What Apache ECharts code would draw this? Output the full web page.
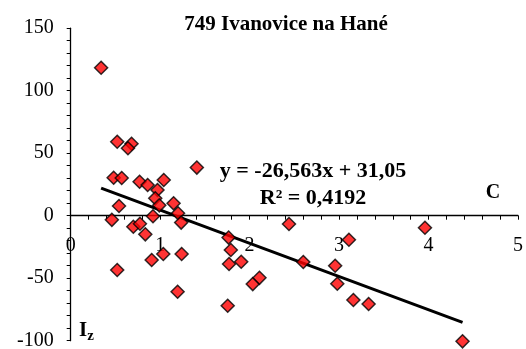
<!DOCTYPE html>
<html>
<head>
<meta charset="utf-8">
<script src="https://cdn.jsdelivr.net/npm/echarts@6/dist/echarts.min.js"></script>
<style>html,body{margin:0;padding:0;background:#fff}#c{width:526px;height:349px}</style>
</head>
<body>
<div id="c"></div>
<script>
var title = "749 Ivanovice na Hané";
var xVals = [0.34,0.52,0.68,0.64,1.41,0.48,0.57,0.77,0.86,1.04,0.97,0.945,0.99,1.15,1.20,0.54,0.46,0.92,1.235,0.70,0.774,0.834,1.035,1.24,0.905,0.52,1.195,1.765,1.79,1.77,1.906,1.755,2.035,2.11,2.44,2.60,3.96,3.11,2.956,2.98,3.16,3.33,4.38];
var yVals = [118.4,59.2,57.6,54.0,38.5,30.4,30.2,27.2,24.6,28.6,20.6,13.9,8.3,9.9,2.0,7.8,-3.3,-0.4,-5.5,-8.8,-6.4,-14.9,-30.6,-30.6,-35.4,-43.4,-60.8,-17.5,-27.4,-38.6,-36.8,-72.0,-54.7,-49.7,-6.6,-37.0,-9.6,-19.2,-40.0,-54.4,-67.4,-70.6,-100.5];
var slope = -26.563, intercept = 31.05;
var eqText = "y = -26,563x + 31,05";
var r2Text = "R² = 0,4192";
var xAxisName = "C";
var yMin = -100, yMax = 150, xMin = 0, xMax = 5;

var pts = xVals.map(function(x,i){return [x,yVals[i]];});
var dxmin = Math.min.apply(null,xVals), dxmax = Math.max.apply(null,xVals);
var trend = [[dxmin, slope*dxmin+intercept],[dxmax, slope*dxmax+intercept]];

var gridTop = 28.2, gridBottom = 8.3, H = 349;
var plotH = H - gridTop - gridBottom;
var zeroOffset = -plotH * (0 - yMin) / (yMax - yMin);

var chart = echarts.init(document.getElementById('c'));
var F = '"Liberation Serif","Times New Roman",serif';
chart.setOption({
  animation:false,
  grid:{left:70.7,right:8,top:gridTop,bottom:gridBottom,containLabel:false,outerBoundsMode:'none'},
  xAxis:{type:'value',min:xMin,max:xMax,interval:1,position:'bottom',offset:zeroOffset,
    axisLine:{onZero:false,lineStyle:{color:'#000',width:1.3}},
    axisTick:{show:true,length:4,lineStyle:{color:'#000'}},
    minorTick:{show:true,splitNumber:5,length:4,lineStyle:{color:'#000'}},
    splitLine:{show:false},
    axisLabel:{margin:20,color:'#000',fontFamily:F,fontSize:20}},
  yAxis:{type:'value',min:yMin,max:yMax,interval:50,
    axisLine:{show:true,lineStyle:{color:'#000',width:1.3}},
    axisTick:{show:true,length:4,lineStyle:{color:'#000'}},
    minorTick:{show:true,splitNumber:5,length:4,lineStyle:{color:'#000'}},
    splitLine:{show:false},
    axisLabel:{margin:17,color:'#000',fontFamily:F,fontSize:20}},
  series:[
    {type:'line',data:trend,symbol:'none',lineStyle:{color:'#000',width:3},z:2},
    {type:'scatter',data:pts,symbol:'diamond',symbolSize:13,clip:false,
      itemStyle:{color:'#ff0000',borderColor:'#000',borderWidth:1.5},z:3}
  ],
  graphic:[
    {type:'text',x:286,y:25,style:{text:title,fontFamily:F,fontWeight:'bold',fontSize:21,fill:'#000',align:'center',verticalAlign:'middle'}},
    {type:'text',x:313,y:171,style:{text:eqText,fontFamily:F,fontWeight:'bold',fontSize:22,fill:'#000',align:'center',verticalAlign:'middle'}},
    {type:'text',x:313,y:198,style:{text:r2Text,fontFamily:F,fontWeight:'bold',fontSize:22,fill:'#000',align:'center',verticalAlign:'middle'}},
    {type:'text',x:493,y:193,style:{text:xAxisName,fontFamily:F,fontWeight:'bold',fontSize:20,fill:'#000',align:'center',verticalAlign:'middle'}},
    {type:'text',x:79,y:331,style:{text:'{i|I}{z|z}',fontFamily:F,fill:'#000',verticalAlign:'middle',
      rich:{i:{fontFamily:F,fontWeight:'bold',fontSize:21,fill:'#000'},z:{fontFamily:F,fontWeight:'bold',fontSize:15,fill:'#000',padding:[10,0,0,0]}}}}
  ]
});
</script>
</body>
</html>
